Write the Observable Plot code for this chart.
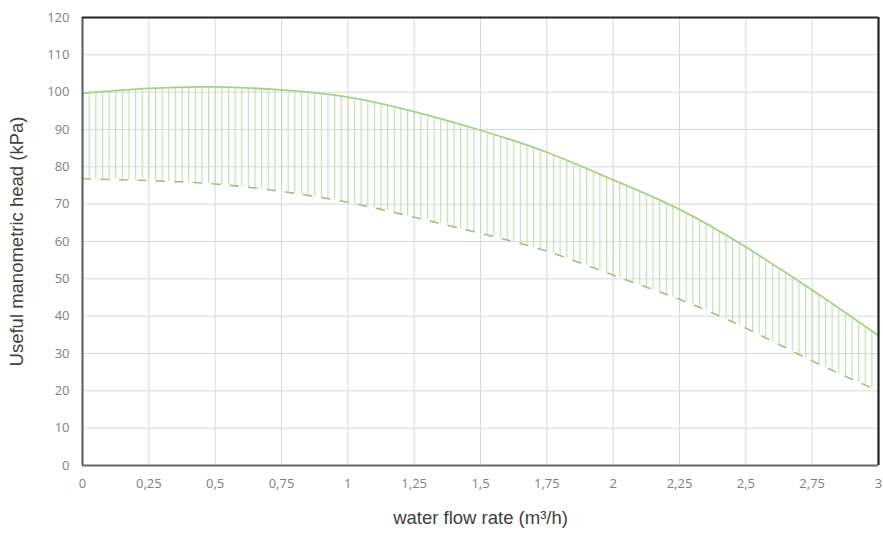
<!DOCTYPE html>
<html>
<head>
<meta charset="utf-8">
<script src="https://cdn.jsdelivr.net/npm/d3@7"></script>
<script src="https://cdn.jsdelivr.net/npm/@observablehq/plot@0.6"></script>
<style>
  html, body { margin: 0; padding: 0; background: #ffffff; }
  #chart svg { display: block; }
</style>
</head>
<body>
<div id="chart"></div>
<script>
// Water flow rate (m³/h) at which the pump curves are sampled
const flow = [0, 0.25, 0.5, 0.75, 1, 1.25, 1.5, 1.75, 2, 2.25, 2.5, 2.75, 3];
// Maximum speed curve (solid)
const headMax = [99.7, 101, 101.4, 100.6, 98.7, 94.8, 89.8, 83.9, 76.5, 68.6, 58.5, 47, 34.8];
// Minimum speed curve (dashed)
const headMin = [76.8, 76.3, 75.4, 73.4, 70.5, 66.5, 62.2, 57.4, 51, 44.5, 36.8, 28, 20];

const xTicks = [0, 0.25, 0.5, 0.75, 1, 1.25, 1.5, 1.75, 2, 2.25, 2.5, 2.75, 3];
const xTickLabels = ["0", "0,25", "0,5", "0,75", "1", "1,25", "1,5", "1,75", "2", "2,25", "2,5", "2,75", "3"];
const yTicks = [0, 10, 20, 30, 40, 50, 60, 70, 80, 90, 100, 110, 120];

const rows = flow.map((q, i) => ({q, max: headMax[i], min: headMin[i]}));

const W = 883, H = 535;
const mL = 82, mR = 5, mT = 17, mB = 70;
const hatchStep = (W - mL - mR) / 120;

const titleFont = "'Liberation Sans', Arial, sans-serif";

const chart = Plot.plot({
  width: W,
  height: H,
  marginLeft: mL,
  marginRight: mR,
  marginTop: mT,
  marginBottom: mB,
  style: {
    background: "#ffffff",
    overflow: "visible",
    fontSize: "13px",
    fontFamily: "'Open Sans', 'Noto Sans', sans-serif"
  },
  x: {domain: [0, 3], ticks: xTicks},
  y: {domain: [0, 120], ticks: yTicks},
  marks: [
    Plot.gridX(xTicks, {stroke: "#d9d9d9", strokeOpacity: 1, strokeWidth: 1}),
    Plot.gridY(yTicks, {stroke: "#d9d9d9", strokeOpacity: 1, strokeWidth: 1}),
    // hatched band between the two curves
    Plot.areaY(rows, {x: "q", y1: "min", y2: "max", curve: "natural", fill: "url(#hatch)"}),
    Plot.lineY(rows, {x: "q", y: "min", curve: "natural", stroke: "#a8bd8a", strokeWidth: 1.6, strokeDasharray: "8,10.5"}),
    Plot.lineY(rows, {x: "q", y: "max", curve: "natural", stroke: "#a9cf8c", strokeWidth: 1.8}),
    // frame
    Plot.ruleY([0], {stroke: "#666666", strokeWidth: 2.2}),
    Plot.ruleX([0], {stroke: "#666666", strokeWidth: 2.2}),
    Plot.ruleY([120], {stroke: "#222222", strokeWidth: 2.2}),
    Plot.ruleX([3], {stroke: "#222222", strokeWidth: 2.2}),
    Plot.axisX({
      ticks: xTicks, tickSize: 0, tickPadding: 13, label: null,
      tickFormat: (d) => xTickLabels[xTicks.indexOf(d)],
      fill: "#7f7f7f"
    }),
    Plot.axisY({
      ticks: yTicks, tickSize: 0, tickPadding: 13, label: null,
      fill: "#7f7f7f"
    }),
    Plot.text(["water flow rate (m³/h)"], {
      frameAnchor: "bottom", dy: 58, fontSize: 18.5, fill: "#404040", fontFamily: titleFont
    }),
    Plot.text(["Useful manometric head (kPa)"], {
      frameAnchor: "left", dx: -65, rotate: -90, textAnchor: "middle",
      fontSize: 18.5, fill: "#404040", fontFamily: titleFont
    })
  ]
});

// vertical hatch pattern used by the band
const svg = d3.select(chart);
const defs = svg.insert("defs", ":first-child");
const pat = defs.append("pattern")
  .attr("id", "hatch")
  .attr("patternUnits", "userSpaceOnUse")
  .attr("x", mL)
  .attr("y", 0)
  .attr("width", hatchStep)
  .attr("height", H);
pat.append("line")
  .attr("x1", 0.6).attr("x2", 0.6)
  .attr("y1", 0).attr("y2", H)
  .attr("stroke", "#c3dcae")
  .attr("stroke-width", 1.1);

document.getElementById("chart").appendChild(chart);
</script>
</body>
</html>
